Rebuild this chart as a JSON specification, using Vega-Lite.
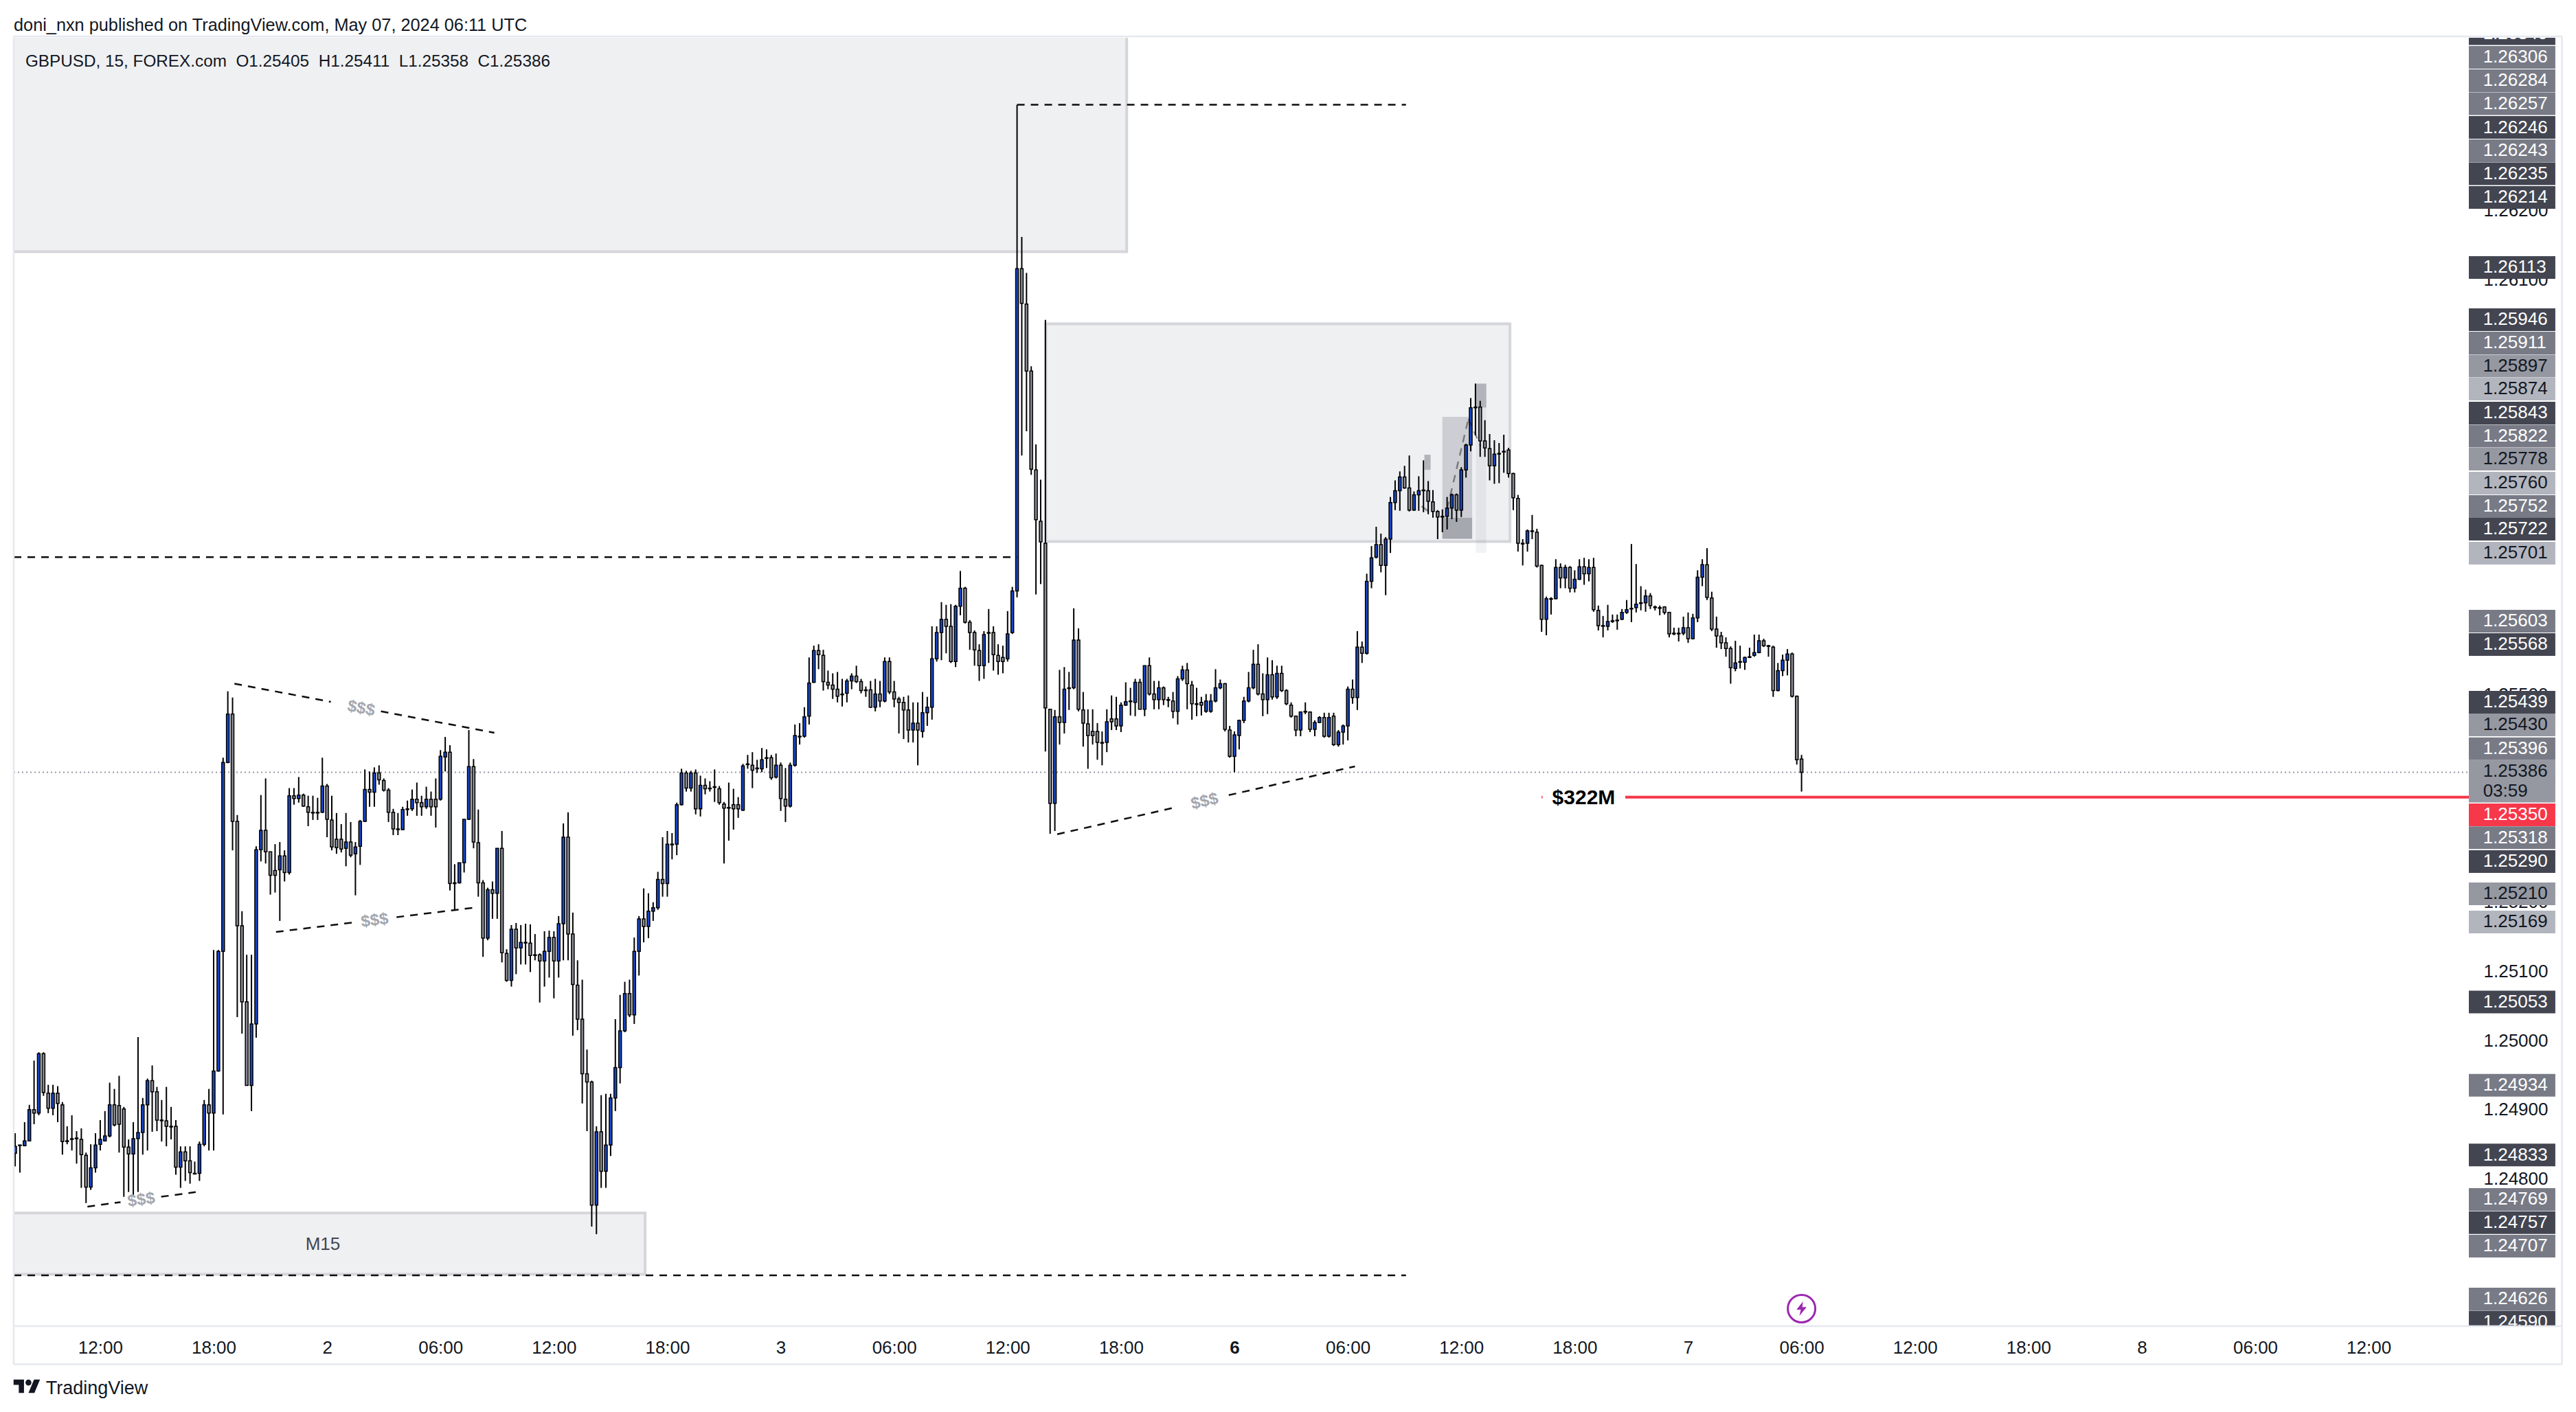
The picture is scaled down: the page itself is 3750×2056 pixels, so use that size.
{
  "$schema": "https://vega.github.io/schema/vega-lite/v6.json",
  "autosize": {"type": "none"},
  "padding": {"left": 20, "top": 55, "right": 156, "bottom": 125},
  "width": 3574,
  "height": 1876,
  "background": "#ffffff",
  "config": {
    "view": {"stroke": null},
    "font": "Liberation Sans"
  },
  "datasets": {
    "bars": [
{"i":-18,"o":1.24835,"h":1.24864,"l":1.24816,"c":1.24845},
{"i":-17,"o":1.24847,"h":1.24847,"l":1.24807,"c":1.24846},
{"i":-16,"o":1.24846,"h":1.2488,"l":1.24845,"c":1.24853},
{"i":-15,"o":1.24853,"h":1.24905,"l":1.24853,"c":1.24898},
{"i":-14,"o":1.24898,"h":1.24969,"l":1.24877,"c":1.24893},
{"i":-13,"o":1.24893,"h":1.24981,"l":1.2489,"c":1.24979},
{"i":-12,"o":1.24979,"h":1.24981,"l":1.24918,"c":1.24923},
{"i":-11,"o":1.24922,"h":1.24934,"l":1.24893,"c":1.249},
{"i":-10,"o":1.249,"h":1.24934,"l":1.2489,"c":1.24922},
{"i":-9,"o":1.24922,"h":1.24932,"l":1.2488,"c":1.24907},
{"i":-8,"o":1.24905,"h":1.24909,"l":1.24833,"c":1.24852},
{"i":-7,"o":1.24853,"h":1.24874,"l":1.24848,"c":1.24852},
{"i":-6,"o":1.24856,"h":1.2489,"l":1.24839,"c":1.24855},
{"i":-5,"o":1.24857,"h":1.24867,"l":1.2482,"c":1.24856},
{"i":-4,"o":1.24855,"h":1.24871,"l":1.24785,"c":1.24833},
{"i":-3,"o":1.24832,"h":1.24836,"l":1.24763,"c":1.24786},
{"i":-2,"o":1.24786,"h":1.24848,"l":1.24782,"c":1.24814},
{"i":-1,"o":1.24814,"h":1.24864,"l":1.24807,"c":1.24847},
{"i":0,"o":1.24848,"h":1.24883,"l":1.24839,"c":1.24855},
{"i":1,"o":1.24853,"h":1.24896,"l":1.24852,"c":1.2486},
{"i":2,"o":1.2486,"h":1.24937,"l":1.24858,"c":1.24905},
{"i":3,"o":1.24905,"h":1.24928,"l":1.24874,"c":1.24876},
{"i":4,"o":1.24904,"h":1.24947,"l":1.24836,"c":1.24877},
{"i":5,"o":1.24899,"h":1.24902,"l":1.24772,"c":1.24844},
{"i":6,"o":1.24844,"h":1.24855,"l":1.24779,"c":1.24834},
{"i":7,"o":1.24834,"h":1.2488,"l":1.24775,"c":1.24856},
{"i":8,"o":1.24856,"h":1.25003,"l":1.24779,"c":1.24865},
{"i":9,"o":1.24865,"h":1.24915,"l":1.24833,"c":1.24905},
{"i":10,"o":1.24905,"h":1.24943,"l":1.24839,"c":1.2494},
{"i":11,"o":1.2494,"h":1.24962,"l":1.24866,"c":1.24924},
{"i":12,"o":1.24924,"h":1.24931,"l":1.24867,"c":1.24883},
{"i":13,"o":1.24883,"h":1.24912,"l":1.24852,"c":1.24882},
{"i":14,"o":1.24882,"h":1.24931,"l":1.24845,"c":1.24874},
{"i":15,"o":1.24874,"h":1.24902,"l":1.24855,"c":1.24873},
{"i":16,"o":1.24874,"h":1.24883,"l":1.24804,"c":1.24815},
{"i":17,"o":1.24815,"h":1.24845,"l":1.24785,"c":1.24837},
{"i":18,"o":1.24837,"h":1.24845,"l":1.24795,"c":1.24824},
{"i":19,"o":1.24824,"h":1.24845,"l":1.24791,"c":1.24807},
{"i":20,"o":1.24806,"h":1.24823,"l":1.24805,"c":1.24805},
{"i":21,"o":1.24806,"h":1.24852,"l":1.24795,"c":1.24848},
{"i":22,"o":1.24848,"h":1.24912,"l":1.24845,"c":1.24905},
{"i":23,"o":1.24905,"h":1.24928,"l":1.24839,"c":1.24893},
{"i":24,"o":1.24893,"h":1.25129,"l":1.24839,"c":1.24954},
{"i":25,"o":1.24954,"h":1.25129,"l":1.24953,"c":1.25127},
{"i":26,"o":1.25127,"h":1.25407,"l":1.24891,"c":1.254},
{"i":27,"o":1.254,"h":1.25503,"l":1.25399,"c":1.2547},
{"i":28,"o":1.2547,"h":1.25494,"l":1.25273,"c":1.25315},
{"i":29,"o":1.25315,"h":1.25324,"l":1.25032,"c":1.25164},
{"i":30,"o":1.25164,"h":1.25185,"l":1.25008,"c":1.25054},
{"i":31,"o":1.25054,"h":1.25122,"l":1.24933,"c":1.24933},
{"i":32,"o":1.24933,"h":1.25122,"l":1.24896,"c":1.25022},
{"i":33,"o":1.25022,"h":1.25279,"l":1.25002,"c":1.25274},
{"i":34,"o":1.25274,"h":1.25353,"l":1.25257,"c":1.25302},
{"i":35,"o":1.25302,"h":1.25377,"l":1.25254,"c":1.25271},
{"i":36,"o":1.25271,"h":1.25271,"l":1.25209,"c":1.25237},
{"i":37,"o":1.25244,"h":1.25282,"l":1.25212,"c":1.25237},
{"i":38,"o":1.25245,"h":1.25285,"l":1.25171,"c":1.25265},
{"i":39,"o":1.25265,"h":1.25273,"l":1.25228,"c":1.25241},
{"i":40,"o":1.25241,"h":1.25363,"l":1.25238,"c":1.25352},
{"i":41,"o":1.25352,"h":1.25363,"l":1.25339,"c":1.25348},
{"i":42,"o":1.25348,"h":1.25379,"l":1.25342,"c":1.25353},
{"i":43,"o":1.25353,"h":1.25355,"l":1.25336,"c":1.25337},
{"i":44,"o":1.25336,"h":1.25352,"l":1.25308,"c":1.25328},
{"i":45,"o":1.25328,"h":1.25352,"l":1.25317,"c":1.25327},
{"i":46,"o":1.25328,"h":1.25349,"l":1.25317,"c":1.25327},
{"i":47,"o":1.25328,"h":1.25407,"l":1.25327,"c":1.25366},
{"i":48,"o":1.25366,"h":1.25369,"l":1.25292,"c":1.25318},
{"i":49,"o":1.25317,"h":1.25352,"l":1.25273,"c":1.25278},
{"i":50,"o":1.25289,"h":1.25327,"l":1.25268,"c":1.25277},
{"i":51,"o":1.25289,"h":1.25311,"l":1.2527,"c":1.25275},
{"i":52,"o":1.25276,"h":1.25327,"l":1.2525,"c":1.25285},
{"i":53,"o":1.25285,"h":1.25314,"l":1.25263,"c":1.25266},
{"i":54,"o":1.25268,"h":1.25285,"l":1.25208,"c":1.25278},
{"i":55,"o":1.25279,"h":1.25317,"l":1.25252,"c":1.25315},
{"i":56,"o":1.25315,"h":1.2539,"l":1.25314,"c":1.25361},
{"i":57,"o":1.25361,"h":1.25387,"l":1.25336,"c":1.25357},
{"i":58,"o":1.25357,"h":1.25393,"l":1.25336,"c":1.25385},
{"i":59,"o":1.25385,"h":1.25396,"l":1.25368,"c":1.25375},
{"i":60,"o":1.25374,"h":1.25377,"l":1.25358,"c":1.2536},
{"i":61,"o":1.2536,"h":1.25363,"l":1.25314,"c":1.25328},
{"i":62,"o":1.25328,"h":1.25333,"l":1.25295,"c":1.25304},
{"i":63,"o":1.25304,"h":1.25327,"l":1.25295,"c":1.25303},
{"i":64,"o":1.25303,"h":1.25336,"l":1.25302,"c":1.25332},
{"i":65,"o":1.25333,"h":1.25345,"l":1.25323,"c":1.25332},
{"i":66,"o":1.25333,"h":1.25361,"l":1.2533,"c":1.25347},
{"i":67,"o":1.25347,"h":1.25371,"l":1.25323,"c":1.25342},
{"i":68,"o":1.25342,"h":1.25352,"l":1.25323,"c":1.25336},
{"i":69,"o":1.25336,"h":1.25365,"l":1.25333,"c":1.25347},
{"i":70,"o":1.25347,"h":1.25358,"l":1.25323,"c":1.25336},
{"i":71,"o":1.25347,"h":1.25377,"l":1.25306,"c":1.25336},
{"i":72,"o":1.25347,"h":1.25418,"l":1.25345,"c":1.25409},
{"i":73,"o":1.25408,"h":1.25437,"l":1.25387,"c":1.25415},
{"i":74,"o":1.25415,"h":1.25425,"l":1.25215,"c":1.25225},
{"i":75,"o":1.25226,"h":1.25253,"l":1.25187,"c":1.25225},
{"i":76,"o":1.25226,"h":1.25255,"l":1.25225,"c":1.25255},
{"i":77,"o":1.25255,"h":1.25318,"l":1.25241,"c":1.25318},
{"i":78,"o":1.25318,"h":1.25447,"l":1.25317,"c":1.25394},
{"i":79,"o":1.25394,"h":1.25405,"l":1.25276,"c":1.25285},
{"i":80,"o":1.25284,"h":1.25332,"l":1.25206,"c":1.25226},
{"i":81,"o":1.25226,"h":1.2523,"l":1.25119,"c":1.25146},
{"i":82,"o":1.25146,"h":1.25219,"l":1.25143,"c":1.25216},
{"i":83,"o":1.25216,"h":1.25228,"l":1.25174,"c":1.25211},
{"i":84,"o":1.25211,"h":1.25276,"l":1.25174,"c":1.25276},
{"i":85,"o":1.25276,"h":1.25301,"l":1.25111,"c":1.25125},
{"i":86,"o":1.25124,"h":1.2513,"l":1.25083,"c":1.25085},
{"i":87,"o":1.25085,"h":1.25165,"l":1.25076,"c":1.25159},
{"i":88,"o":1.25159,"h":1.25168,"l":1.25094,"c":1.25132},
{"i":89,"o":1.25132,"h":1.25165,"l":1.25108,"c":1.2514},
{"i":90,"o":1.2514,"h":1.25167,"l":1.25108,"c":1.25139},
{"i":91,"o":1.25139,"h":1.25166,"l":1.25097,"c":1.25121},
{"i":92,"o":1.25122,"h":1.25152,"l":1.25114,"c":1.25121},
{"i":93,"o":1.25122,"h":1.25124,"l":1.25053,"c":1.25113},
{"i":94,"o":1.25113,"h":1.25156,"l":1.25076,"c":1.25127},
{"i":95,"o":1.25127,"h":1.25157,"l":1.25089,"c":1.25147},
{"i":96,"o":1.25147,"h":1.25156,"l":1.25059,"c":1.25113},
{"i":97,"o":1.25113,"h":1.25178,"l":1.25089,"c":1.25167},
{"i":98,"o":1.25167,"h":1.25312,"l":1.25114,"c":1.25292},
{"i":99,"o":1.25292,"h":1.25328,"l":1.25114,"c":1.25152},
{"i":100,"o":1.25152,"h":1.25183,"l":1.25005,"c":1.25079},
{"i":101,"o":1.25078,"h":1.25114,"l":1.25013,"c":1.25029},
{"i":102,"o":1.25029,"h":1.25086,"l":1.24907,"c":1.2495},
{"i":103,"o":1.2495,"h":1.24985,"l":1.24867,"c":1.24938},
{"i":104,"o":1.24938,"h":1.2494,"l":1.24729,"c":1.2476},
{"i":105,"o":1.2476,"h":1.24874,"l":1.24718,"c":1.24866},
{"i":106,"o":1.24866,"h":1.24919,"l":1.24785,"c":1.24809},
{"i":107,"o":1.24809,"h":1.24921,"l":1.24785,"c":1.24847},
{"i":108,"o":1.24847,"h":1.24921,"l":1.24831,"c":1.24915},
{"i":109,"o":1.24915,"h":1.25029,"l":1.24896,"c":1.24959},
{"i":110,"o":1.24959,"h":1.25064,"l":1.24936,"c":1.25012},
{"i":111,"o":1.25012,"h":1.25083,"l":1.2501,"c":1.25066},
{"i":112,"o":1.25066,"h":1.25086,"l":1.25032,"c":1.25035},
{"i":113,"o":1.25035,"h":1.25147,"l":1.25022,"c":1.25127},
{"i":114,"o":1.25127,"h":1.25178,"l":1.25092,"c":1.25174},
{"i":115,"o":1.25174,"h":1.25218,"l":1.2514,"c":1.25163},
{"i":116,"o":1.25163,"h":1.25211,"l":1.25146,"c":1.25185},
{"i":117,"o":1.25185,"h":1.25198,"l":1.25171,"c":1.2519},
{"i":118,"o":1.2519,"h":1.25242,"l":1.25187,"c":1.25231},
{"i":119,"o":1.25231,"h":1.25292,"l":1.25206,"c":1.25225},
{"i":120,"o":1.25225,"h":1.25301,"l":1.25206,"c":1.25282},
{"i":121,"o":1.25282,"h":1.25298,"l":1.2526,"c":1.25281},
{"i":122,"o":1.25282,"h":1.25342,"l":1.25266,"c":1.25339},
{"i":123,"o":1.25339,"h":1.25391,"l":1.25338,"c":1.25385},
{"i":124,"o":1.25385,"h":1.25388,"l":1.25358,"c":1.25363},
{"i":125,"o":1.25363,"h":1.25388,"l":1.25358,"c":1.25385},
{"i":126,"o":1.25385,"h":1.2539,"l":1.25325,"c":1.25333},
{"i":127,"o":1.25333,"h":1.25381,"l":1.25322,"c":1.25367},
{"i":128,"o":1.25367,"h":1.25377,"l":1.25354,"c":1.25362},
{"i":129,"o":1.25363,"h":1.25373,"l":1.25358,"c":1.25362},
{"i":130,"o":1.25365,"h":1.2539,"l":1.25343,"c":1.25364},
{"i":131,"o":1.25362,"h":1.25366,"l":1.25339,"c":1.25342},
{"i":132,"o":1.2534,"h":1.25343,"l":1.25254,"c":1.25334},
{"i":133,"o":1.25335,"h":1.25371,"l":1.25287,"c":1.25334},
{"i":134,"o":1.25339,"h":1.25362,"l":1.25303,"c":1.25333},
{"i":135,"o":1.25339,"h":1.2535,"l":1.2532,"c":1.25333},
{"i":136,"o":1.25331,"h":1.25398,"l":1.2533,"c":1.25395},
{"i":137,"o":1.25398,"h":1.25411,"l":1.25391,"c":1.25397},
{"i":138,"o":1.25396,"h":1.25415,"l":1.25363,"c":1.25389},
{"i":139,"o":1.25392,"h":1.25404,"l":1.25385,"c":1.25391},
{"i":140,"o":1.25391,"h":1.25421,"l":1.25386,"c":1.25404},
{"i":141,"o":1.25407,"h":1.25419,"l":1.25392,"c":1.25406},
{"i":142,"o":1.25407,"h":1.25411,"l":1.25375,"c":1.25378},
{"i":143,"o":1.25379,"h":1.25413,"l":1.25377,"c":1.25396},
{"i":144,"o":1.25396,"h":1.254,"l":1.2533,"c":1.25348},
{"i":145,"o":1.25347,"h":1.25392,"l":1.25314,"c":1.25337},
{"i":146,"o":1.25337,"h":1.254,"l":1.25335,"c":1.25396},
{"i":147,"o":1.25396,"h":1.25455,"l":1.25394,"c":1.25439},
{"i":148,"o":1.25438,"h":1.25457,"l":1.25426,"c":1.25437},
{"i":149,"o":1.25438,"h":1.2548,"l":1.25436,"c":1.25466},
{"i":150,"o":1.25467,"h":1.25552,"l":1.25455,"c":1.25515},
{"i":151,"o":1.25516,"h":1.25569,"l":1.25515,"c":1.25562},
{"i":152,"o":1.25562,"h":1.25571,"l":1.25535,"c":1.25556},
{"i":153,"o":1.25555,"h":1.25563,"l":1.25504,"c":1.25517},
{"i":154,"o":1.25516,"h":1.25533,"l":1.25506,"c":1.25512},
{"i":155,"o":1.25512,"h":1.25529,"l":1.25492,"c":1.25506},
{"i":156,"o":1.25506,"h":1.25531,"l":1.25487,"c":1.25496},
{"i":157,"o":1.25499,"h":1.25521,"l":1.25481,"c":1.25498},
{"i":158,"o":1.255,"h":1.25521,"l":1.25487,"c":1.25518},
{"i":159,"o":1.25518,"h":1.25529,"l":1.25506,"c":1.25525},
{"i":160,"o":1.25525,"h":1.2554,"l":1.25515,"c":1.25517},
{"i":161,"o":1.25517,"h":1.25521,"l":1.255,"c":1.25504},
{"i":162,"o":1.25505,"h":1.2551,"l":1.25495,"c":1.25504},
{"i":163,"o":1.25505,"h":1.25518,"l":1.25479,"c":1.2548},
{"i":164,"o":1.2548,"h":1.25521,"l":1.25474,"c":1.25499},
{"i":165,"o":1.25499,"h":1.25518,"l":1.2548,"c":1.25489},
{"i":166,"o":1.25489,"h":1.25552,"l":1.25487,"c":1.25546},
{"i":167,"o":1.25546,"h":1.25552,"l":1.25499,"c":1.25502},
{"i":168,"o":1.25502,"h":1.25518,"l":1.2548,"c":1.25492},
{"i":169,"o":1.25492,"h":1.25495,"l":1.25442,"c":1.25487},
{"i":170,"o":1.25487,"h":1.25495,"l":1.25434,"c":1.25476},
{"i":171,"o":1.25476,"h":1.25497,"l":1.25429,"c":1.25447},
{"i":172,"o":1.25447,"h":1.25487,"l":1.25429,"c":1.25457},
{"i":173,"o":1.25457,"h":1.25487,"l":1.25396,"c":1.25447},
{"i":174,"o":1.25445,"h":1.25502,"l":1.25436,"c":1.25472},
{"i":175,"o":1.25472,"h":1.25495,"l":1.25453,"c":1.2548},
{"i":176,"o":1.2548,"h":1.25597,"l":1.25462,"c":1.2555},
{"i":177,"o":1.2555,"h":1.25597,"l":1.25546,"c":1.25588},
{"i":178,"o":1.25588,"h":1.25632,"l":1.25548,"c":1.25607},
{"i":179,"o":1.25607,"h":1.25628,"l":1.25558,"c":1.25597},
{"i":180,"o":1.25597,"h":1.25629,"l":1.25544,"c":1.25546},
{"i":181,"o":1.25546,"h":1.25628,"l":1.25538,"c":1.25626},
{"i":182,"o":1.25626,"h":1.25677,"l":1.25613,"c":1.25652},
{"i":183,"o":1.25652,"h":1.25654,"l":1.25601,"c":1.25603},
{"i":184,"o":1.25603,"h":1.25606,"l":1.25563,"c":1.25588},
{"i":185,"o":1.25588,"h":1.25591,"l":1.2554,"c":1.25563},
{"i":186,"o":1.25562,"h":1.25571,"l":1.25518,"c":1.2554},
{"i":187,"o":1.2554,"h":1.2559,"l":1.25521,"c":1.25585},
{"i":188,"o":1.25588,"h":1.25622,"l":1.25544,"c":1.25587},
{"i":189,"o":1.25588,"h":1.25597,"l":1.25533,"c":1.25556},
{"i":190,"o":1.25555,"h":1.25571,"l":1.25527,"c":1.25546},
{"i":191,"o":1.25552,"h":1.25569,"l":1.25529,"c":1.25546},
{"i":192,"o":1.2555,"h":1.25619,"l":1.25546,"c":1.25586},
{"i":193,"o":1.25588,"h":1.25654,"l":1.25586,"c":1.25648},
{"i":194,"o":1.25648,"h":1.26351,"l":1.25639,"c":1.26114},
{"i":195,"o":1.26114,"h":1.2616,"l":1.25844,"c":1.26064},
{"i":196,"o":1.26063,"h":1.26108,"l":1.25879,"c":1.25966},
{"i":197,"o":1.25966,"h":1.25973,"l":1.25816,"c":1.25824},
{"i":198,"o":1.25823,"h":1.2586,"l":1.25643,"c":1.25751},
{"i":199,"o":1.25749,"h":1.25809,"l":1.25658,"c":1.25719},
{"i":200,"o":1.25717,"h":1.2604,"l":1.25416,"c":1.25479},
{"i":201,"o":1.25477,"h":1.25477,"l":1.25297,"c":1.25341},
{"i":202,"o":1.25341,"h":1.25476,"l":1.25301,"c":1.25466},
{"i":203,"o":1.25466,"h":1.25534,"l":1.25426,"c":1.25458},
{"i":204,"o":1.25458,"h":1.25538,"l":1.25442,"c":1.25506},
{"i":205,"o":1.25508,"h":1.25531,"l":1.25476,"c":1.25507},
{"i":206,"o":1.25508,"h":1.25623,"l":1.25506,"c":1.25577},
{"i":207,"o":1.25577,"h":1.25594,"l":1.25474,"c":1.25477},
{"i":208,"o":1.25476,"h":1.25502,"l":1.25423,"c":1.25457},
{"i":209,"o":1.25456,"h":1.25477,"l":1.25391,"c":1.25439},
{"i":210,"o":1.25445,"h":1.25477,"l":1.25426,"c":1.25439},
{"i":211,"o":1.25445,"h":1.25457,"l":1.25404,"c":1.25429},
{"i":212,"o":1.25429,"h":1.25445,"l":1.25396,"c":1.25428},
{"i":213,"o":1.25429,"h":1.25477,"l":1.25415,"c":1.25459},
{"i":214,"o":1.25463,"h":1.25497,"l":1.25447,"c":1.25459},
{"i":215,"o":1.25463,"h":1.25495,"l":1.25447,"c":1.25453},
{"i":216,"o":1.25453,"h":1.25487,"l":1.25444,"c":1.25483},
{"i":217,"o":1.25483,"h":1.25516,"l":1.25482,"c":1.25488},
{"i":218,"o":1.25489,"h":1.25508,"l":1.25468,"c":1.25488},
{"i":219,"o":1.25487,"h":1.25521,"l":1.25467,"c":1.25516},
{"i":220,"o":1.25516,"h":1.25521,"l":1.25477,"c":1.25477},
{"i":221,"o":1.25477,"h":1.2554,"l":1.25467,"c":1.2554},
{"i":222,"o":1.2554,"h":1.25552,"l":1.25497,"c":1.25499},
{"i":223,"o":1.25499,"h":1.25518,"l":1.25477,"c":1.25491},
{"i":224,"o":1.25491,"h":1.25518,"l":1.25477,"c":1.25508},
{"i":225,"o":1.25508,"h":1.2551,"l":1.25483,"c":1.25491},
{"i":226,"o":1.25491,"h":1.25495,"l":1.2548,"c":1.2549},
{"i":227,"o":1.25489,"h":1.25502,"l":1.25464,"c":1.25474},
{"i":228,"o":1.25474,"h":1.25525,"l":1.25455,"c":1.25521},
{"i":229,"o":1.25521,"h":1.2554,"l":1.25518,"c":1.25534},
{"i":230,"o":1.25534,"h":1.25544,"l":1.25477,"c":1.25514},
{"i":231,"o":1.25512,"h":1.25518,"l":1.25462,"c":1.25485},
{"i":232,"o":1.25485,"h":1.25508,"l":1.25467,"c":1.25484},
{"i":233,"o":1.25487,"h":1.25495,"l":1.25468,"c":1.25483},
{"i":234,"o":1.25474,"h":1.25499,"l":1.25472,"c":1.25489},
{"i":235,"o":1.25474,"h":1.25499,"l":1.25472,"c":1.25489},
{"i":236,"o":1.25489,"h":1.25535,"l":1.25487,"c":1.25508},
{"i":237,"o":1.25508,"h":1.2552,"l":1.25506,"c":1.25514},
{"i":238,"o":1.25514,"h":1.25515,"l":1.25445,"c":1.25448},
{"i":239,"o":1.25447,"h":1.25453,"l":1.25407,"c":1.25409},
{"i":240,"o":1.25409,"h":1.25445,"l":1.25386,"c":1.2544},
{"i":241,"o":1.25439,"h":1.25462,"l":1.25419,"c":1.25461},
{"i":242,"o":1.25461,"h":1.25495,"l":1.25457,"c":1.25489},
{"i":243,"o":1.25489,"h":1.25531,"l":1.25487,"c":1.25508},
{"i":244,"o":1.25508,"h":1.25563,"l":1.25506,"c":1.25542},
{"i":245,"o":1.25542,"h":1.25571,"l":1.25497,"c":1.25499},
{"i":246,"o":1.25499,"h":1.25529,"l":1.25467,"c":1.25491},
{"i":247,"o":1.25491,"h":1.25552,"l":1.2547,"c":1.25527},
{"i":248,"o":1.25527,"h":1.25548,"l":1.25491,"c":1.25495},
{"i":249,"o":1.25495,"h":1.2554,"l":1.25492,"c":1.25529},
{"i":250,"o":1.25529,"h":1.2554,"l":1.25502,"c":1.25504},
{"i":251,"o":1.25504,"h":1.25506,"l":1.25483,"c":1.25485},
{"i":252,"o":1.25483,"h":1.25487,"l":1.25465,"c":1.25467},
{"i":253,"o":1.25467,"h":1.25468,"l":1.25438,"c":1.25447},
{"i":254,"o":1.25447,"h":1.25474,"l":1.25438,"c":1.25473},
{"i":255,"o":1.25474,"h":1.25487,"l":1.2547,"c":1.25473},
{"i":256,"o":1.25473,"h":1.25474,"l":1.25444,"c":1.25448},
{"i":257,"o":1.25448,"h":1.25461,"l":1.25438,"c":1.25458},
{"i":258,"o":1.25458,"h":1.25467,"l":1.25457,"c":1.25465},
{"i":259,"o":1.25465,"h":1.25472,"l":1.25436,"c":1.25438},
{"i":260,"o":1.25438,"h":1.25472,"l":1.25436,"c":1.25465},
{"i":261,"o":1.25467,"h":1.25472,"l":1.25424,"c":1.25426},
{"i":262,"o":1.25426,"h":1.25447,"l":1.25423,"c":1.25444},
{"i":263,"o":1.25444,"h":1.25455,"l":1.25426,"c":1.25453},
{"i":264,"o":1.25453,"h":1.2551,"l":1.25432,"c":1.25506},
{"i":265,"o":1.25506,"h":1.2552,"l":1.25485,"c":1.25494},
{"i":266,"o":1.25494,"h":1.2559,"l":1.25476,"c":1.25567},
{"i":267,"o":1.25567,"h":1.25575,"l":1.25544,"c":1.25558},
{"i":268,"o":1.25558,"h":1.25673,"l":1.25556,"c":1.25662},
{"i":269,"o":1.25662,"h":1.25713,"l":1.25652,"c":1.25696},
{"i":270,"o":1.25697,"h":1.25741,"l":1.25695,"c":1.25715},
{"i":271,"o":1.25715,"h":1.25731,"l":1.25675,"c":1.25685},
{"i":272,"o":1.25685,"h":1.25726,"l":1.25642,"c":1.25723},
{"i":273,"o":1.25723,"h":1.25784,"l":1.25703,"c":1.25776},
{"i":274,"o":1.25776,"h":1.25808,"l":1.25765,"c":1.25793},
{"i":275,"o":1.25793,"h":1.25821,"l":1.25764,"c":1.25813},
{"i":276,"o":1.25813,"h":1.25829,"l":1.25796,"c":1.25797},
{"i":277,"o":1.25797,"h":1.25844,"l":1.25763,"c":1.25765},
{"i":278,"o":1.25765,"h":1.25792,"l":1.25764,"c":1.25787},
{"i":279,"o":1.25787,"h":1.25814,"l":1.25764,"c":1.25793},
{"i":280,"o":1.25794,"h":1.25837,"l":1.25762,"c":1.25793},
{"i":281,"o":1.25793,"h":1.25807,"l":1.25759,"c":1.25778},
{"i":282,"o":1.25777,"h":1.25794,"l":1.25754,"c":1.25763},
{"i":283,"o":1.25763,"h":1.25765,"l":1.25723,"c":1.25755},
{"i":284,"o":1.25756,"h":1.25766,"l":1.25733,"c":1.25755},
{"i":285,"o":1.25756,"h":1.25784,"l":1.25737,"c":1.25768},
{"i":286,"o":1.25768,"h":1.25789,"l":1.25752,"c":1.25787},
{"i":287,"o":1.25787,"h":1.25789,"l":1.25748,"c":1.25765},
{"i":288,"o":1.25765,"h":1.25827,"l":1.25755,"c":1.25823},
{"i":289,"o":1.25823,"h":1.25861,"l":1.25812,"c":1.25859},
{"i":290,"o":1.25859,"h":1.25927,"l":1.2585,"c":1.25913},
{"i":291,"o":1.25914,"h":1.25948,"l":1.25873,"c":1.25913},
{"i":292,"o":1.25914,"h":1.25923,"l":1.25842,"c":1.25865},
{"i":293,"o":1.25865,"h":1.25895,"l":1.25842,"c":1.25855},
{"i":294,"o":1.25854,"h":1.25875,"l":1.25808,"c":1.25829},
{"i":295,"o":1.25829,"h":1.25866,"l":1.25803,"c":1.25846},
{"i":296,"o":1.25847,"h":1.25862,"l":1.25804,"c":1.25846},
{"i":297,"o":1.2585,"h":1.25874,"l":1.25819,"c":1.25849},
{"i":298,"o":1.25852,"h":1.25855,"l":1.25812,"c":1.25818},
{"i":299,"o":1.25818,"h":1.25819,"l":1.25765,"c":1.25783},
{"i":300,"o":1.25782,"h":1.25787,"l":1.25705,"c":1.25717},
{"i":301,"o":1.25717,"h":1.25723,"l":1.25685,"c":1.25716},
{"i":302,"o":1.25717,"h":1.25737,"l":1.25705,"c":1.25735},
{"i":303,"o":1.25735,"h":1.25758,"l":1.25723,"c":1.25734},
{"i":304,"o":1.25733,"h":1.25738,"l":1.25682,"c":1.25684},
{"i":305,"o":1.25685,"h":1.25686,"l":1.25589,"c":1.25607},
{"i":306,"o":1.25607,"h":1.2564,"l":1.25584,"c":1.25637},
{"i":307,"o":1.25637,"h":1.25639,"l":1.25614,"c":1.25636},
{"i":308,"o":1.25637,"h":1.25694,"l":1.25636,"c":1.25682},
{"i":309,"o":1.25682,"h":1.25688,"l":1.25652,"c":1.25667},
{"i":310,"o":1.25667,"h":1.25686,"l":1.25652,"c":1.25682},
{"i":311,"o":1.25682,"h":1.25684,"l":1.25646,"c":1.25652},
{"i":312,"o":1.25652,"h":1.25678,"l":1.25646,"c":1.25665},
{"i":313,"o":1.25665,"h":1.25694,"l":1.25664,"c":1.25683},
{"i":314,"o":1.25683,"h":1.25696,"l":1.25657,"c":1.25673},
{"i":315,"o":1.25673,"h":1.25694,"l":1.25662,"c":1.25682},
{"i":316,"o":1.25682,"h":1.25696,"l":1.25618,"c":1.25621},
{"i":317,"o":1.2562,"h":1.25627,"l":1.25591,"c":1.25598},
{"i":318,"o":1.25598,"h":1.25612,"l":1.25581,"c":1.25597},
{"i":319,"o":1.25597,"h":1.25628,"l":1.25591,"c":1.25604},
{"i":320,"o":1.25605,"h":1.25614,"l":1.25602,"c":1.25604},
{"i":321,"o":1.25606,"h":1.25614,"l":1.25592,"c":1.25605},
{"i":322,"o":1.25607,"h":1.25622,"l":1.25606,"c":1.25617},
{"i":323,"o":1.25617,"h":1.25635,"l":1.25615,"c":1.25621},
{"i":324,"o":1.25623,"h":1.25716,"l":1.25603,"c":1.25622},
{"i":325,"o":1.25624,"h":1.25687,"l":1.25617,"c":1.25629},
{"i":326,"o":1.25631,"h":1.25655,"l":1.2562,"c":1.2563},
{"i":327,"o":1.25631,"h":1.2565,"l":1.25618,"c":1.25641},
{"i":328,"o":1.25641,"h":1.25645,"l":1.25622,"c":1.25627},
{"i":329,"o":1.25625,"h":1.25627,"l":1.2562,"c":1.25624},
{"i":330,"o":1.25624,"h":1.25627,"l":1.25613,"c":1.25623},
{"i":331,"o":1.25625,"h":1.25626,"l":1.25614,"c":1.25617},
{"i":332,"o":1.25617,"h":1.25618,"l":1.25581,"c":1.25586},
{"i":333,"o":1.25587,"h":1.25595,"l":1.25584,"c":1.25586},
{"i":334,"o":1.25587,"h":1.25595,"l":1.25575,"c":1.25586},
{"i":335,"o":1.25587,"h":1.25611,"l":1.25584,"c":1.25595},
{"i":336,"o":1.25595,"h":1.25617,"l":1.25573,"c":1.25579},
{"i":337,"o":1.25579,"h":1.25615,"l":1.25578,"c":1.25609},
{"i":338,"o":1.25609,"h":1.25678,"l":1.25603,"c":1.25668},
{"i":339,"o":1.25668,"h":1.25694,"l":1.25655,"c":1.25686},
{"i":340,"o":1.25686,"h":1.2571,"l":1.25635,"c":1.25639},
{"i":341,"o":1.25638,"h":1.25647,"l":1.2559,"c":1.25593},
{"i":342,"o":1.25593,"h":1.25611,"l":1.25566,"c":1.25583},
{"i":343,"o":1.25583,"h":1.25589,"l":1.25564,"c":1.25573},
{"i":344,"o":1.25573,"h":1.25581,"l":1.25553,"c":1.25565},
{"i":345,"o":1.25565,"h":1.25568,"l":1.25514,"c":1.25537},
{"i":346,"o":1.25536,"h":1.25576,"l":1.25532,"c":1.25544},
{"i":347,"o":1.25546,"h":1.25569,"l":1.25536,"c":1.25545},
{"i":348,"o":1.25545,"h":1.25553,"l":1.25534,"c":1.25552},
{"i":349,"o":1.25553,"h":1.25566,"l":1.25551,"c":1.25552},
{"i":350,"o":1.25555,"h":1.25585,"l":1.25553,"c":1.25559},
{"i":351,"o":1.25559,"h":1.25585,"l":1.25558,"c":1.25576},
{"i":352,"o":1.25576,"h":1.25579,"l":1.25567,"c":1.25569},
{"i":353,"o":1.25569,"h":1.2557,"l":1.25553,"c":1.25568},
{"i":354,"o":1.25567,"h":1.25569,"l":1.25495,"c":1.25504},
{"i":355,"o":1.25504,"h":1.25544,"l":1.25503,"c":1.25533},
{"i":356,"o":1.25533,"h":1.25556,"l":1.25525,"c":1.25548},
{"i":357,"o":1.25548,"h":1.25564,"l":1.25526,"c":1.25557},
{"i":358,"o":1.25557,"h":1.25559,"l":1.25494,"c":1.25496},
{"i":359,"o":1.25496,"h":1.25497,"l":1.25397,"c":1.25404},
{"i":360,"o":1.25405,"h":1.25411,"l":1.25358,"c":1.25386}
    ],
    "badges": [
{"label":"1.26340","pos":1.264539,"tone":"dark"},
{"label":"1.26306","pos":1.264198,"tone":"slate"},
{"label":"1.26284","pos":1.26386,"tone":"slate"},
{"label":"1.26257","pos":1.263527,"tone":"slate"},
{"label":"1.26246","pos":1.263184,"tone":"dark"},
{"label":"1.26243","pos":1.262847,"tone":"slate"},
{"label":"1.26235","pos":1.262514,"tone":"dark"},
{"label":"1.26214","pos":1.262172,"tone":"dark"},
{"label":"1.26113","pos":1.261159,"tone":"dark"},
{"label":"1.25946","pos":1.260404,"tone":"dark"},
{"label":"1.25911","pos":1.260067,"tone":"slate"},
{"label":"1.25897","pos":1.259734,"tone":"grey"},
{"label":"1.25874","pos":1.259401,"tone":"light"},
{"label":"1.25843","pos":1.259054,"tone":"dark"},
{"label":"1.25822","pos":1.258721,"tone":"slate"},
{"label":"1.25778","pos":1.258388,"tone":"grey"},
{"label":"1.25760","pos":1.258041,"tone":"light"},
{"label":"1.25752","pos":1.257703,"tone":"slate"},
{"label":"1.25722","pos":1.257375,"tone":"dark"},
{"label":"1.25701","pos":1.257028,"tone":"light"},
{"label":"1.25603","pos":1.256045,"tone":"slate"},
{"label":"1.25568","pos":1.255707,"tone":"dark"},
{"label":"1.25439","pos":1.254873,"tone":"dark"},
{"label":"1.25430","pos":1.254545,"tone":"grey"},
{"label":"1.25396","pos":1.254198,"tone":"slate"},
{"label":"1.25386","pos":1.25387,"tone":"grey"},
{"label":"03:59","pos":1.253587,"tone":"grey"},
{"label":"1.25350","pos":1.253244,"tone":"red"},
{"label":"1.25318","pos":1.252912,"tone":"slate"},
{"label":"1.25290","pos":1.252569,"tone":"dark"},
{"label":"1.25210","pos":1.252102,"tone":"grey"},
{"label":"1.25169","pos":1.251695,"tone":"light"},
{"label":"1.25053","pos":1.250537,"tone":"dark"},
{"label":"1.24934","pos":1.249332,"tone":"slate"},
{"label":"1.24833","pos":1.248324,"tone":"dark"},
{"label":"1.24769","pos":1.247683,"tone":"slate"},
{"label":"1.24757","pos":1.247346,"tone":"dark"},
{"label":"1.24707","pos":1.247008,"tone":"slate"},
{"label":"1.24626","pos":1.246243,"tone":"slate"},
{"label":"1.24590","pos":1.24591,"tone":"dark"}
    ],
    "lines": [
{"a":194,"b":276.3,"p":1.263512,"q":1.263512,"kind":"drawn"},
{"a":-18.3,"b":194,"p":1.256969,"q":1.256969,"kind":"drawn"},
{"a":-18.3,"b":276.3,"p":1.246584,"q":1.246584,"kind":"drawn"},
{"a":28.4,"b":48.8,"p":1.25514,"q":1.254877,"kind":"drawn"},
{"a":59.4,"b":83.4,"p":1.25474,"q":1.254431,"kind":"drawn"},
{"a":37.2,"b":53.8,"p":1.25155,"q":1.251689,"kind":"drawn"},
{"a":62.7,"b":79.4,"p":1.251764,"q":1.251904,"kind":"drawn"},
{"a":-2.7,"b":4.3,"p":1.247579,"q":1.247643,"kind":"drawn"},
{"a":12.9,"b":20.2,"p":1.247721,"q":1.247788,"kind":"drawn"},
{"a":202.5,"b":227.9,"p":1.252963,"q":1.253358,"kind":"drawn"},
{"a":238.8,"b":265.5,"p":1.253528,"q":1.253944,"kind":"drawn"},
{"a":279.6,"b":280.9,"p":1.257706,"q":1.25764,"kind":"faded"},
{"a":285,"b":289.5,"p":1.257665,"q":1.258967,"kind":"faded"},
{"a":289.5,"b":292.1,"p":1.258967,"q":1.258577,"kind":"faded"}
    ]
  },
  "layer": [
    {
      "data": {"values": [
        {"a": -19, "b": 217.2, "top": 1.2647, "bottom": 1.261387},
        {"a": 200.1, "b": 298.3, "top": 1.260345, "bottom": 1.257197},
        {"a": -19, "b": 115.3, "top": 1.247485, "bottom": 1.2466}
      ]},
      "mark": {"type": "rect", "fill": "#eff0f2", "stroke": "#d6d6da", "strokeWidth": 4, "clip": true},
      "encoding": {
        "x": {
          "field": "a",
          "type": "quantitative",
          "title": null,
          "scale": {"domain": [-18.3, 501.2], "nice": false, "zero": false, "padding": 0},
          "axis": {
            "values": [0, 24, 48, 72, 96, 120, 144, 168, 192, 216, 240, 264, 288, 312, 336, 360, 384, 408, 432, 456, 480],
            "labelExpr": "['12:00','18:00','2','06:00','12:00','18:00','3','06:00','12:00','18:00','6','06:00','12:00','18:00','7','06:00','12:00','18:00','8','06:00','12:00'][datum.value/24]",
            "labelFontWeight": {"expr": "datum.value==240 ? 'bold' : 'normal'"},
            "labelFont": "Liberation Sans",
            "labelFontSize": 26,
            "labelColor": "#131722",
            "labelBaseline": "middle",
            "labelPadding": 31,
            "labelFlush": false,
            "labelOverlap": false,
            "grid": false,
            "domain": false,
            "ticks": false
          }
        },
        "x2": {"field": "b"},
        "y": {
          "field": "top",
          "type": "quantitative",
          "title": null,
          "scale": {"domain": [1.24585, 1.26448], "nice": false, "zero": false},
          "axis": {
            "orient": "right",
            "values": [1.248, 1.249, 1.25, 1.251, 1.252, 1.255, 1.261, 1.262],
            "format": ".5f",
            "labelFont": "Liberation Sans",
            "labelFontSize": 26,
            "labelColor": "#131722",
            "labelPadding": 21,
            "labelOffset": 2,
            "labelAlign": "left",
            "labelOverlap": false,
            "grid": false,
            "domain": false,
            "ticks": false
          }
        },
        "y2": {"field": "bottom"}
      }
    },
    {
      "data": {"values": [
        {"a": 284, "b": 290.3, "top": 1.258998, "bottom": 1.257235, "kind": "box"},
        {"a": 284, "b": 290.3, "top": 1.257539, "bottom": 1.257235, "kind": "cap"},
        {"a": 291.1, "b": 293.3, "top": 1.259479, "bottom": 1.257032, "kind": "ghost"},
        {"a": 291.1, "b": 293.3, "top": 1.259479, "bottom": 1.259134, "kind": "cap"},
        {"a": 280.2, "b": 281.5, "top": 1.258451, "bottom": 1.257615, "kind": "ghost"},
        {"a": 280.2, "b": 281.5, "top": 1.258451, "bottom": 1.258233, "kind": "cap"}
      ]},
      "mark": {"type": "rect", "fill": "#787b86"},
      "encoding": {
        "x": {"field": "a", "type": "quantitative", "title": null},
        "x2": {"field": "b"},
        "y": {"field": "top", "type": "quantitative", "title": null},
        "y2": {"field": "bottom"},
        "opacity": {
          "field": "kind",
          "type": "nominal",
          "legend": null,
          "scale": {"type": "ordinal", "domain": ["box", "cap", "ghost"], "range": [0.29, 0.45, 0.1]}
        }
      }
    },
    {
      "data": {"values": [{"a": -18.3, "b": 501.2, "p": 1.25386}]},
      "mark": {"type": "rule", "stroke": "#9598a1", "strokeWidth": 2, "strokeDash": [2, 4]},
      "encoding": {
        "x": {"field": "a", "type": "quantitative", "title": null},
        "x2": {"field": "b"},
        "y": {"field": "p", "type": "quantitative", "title": null}
      }
    },
    {
      "data": {"values": [{"a": 322.7, "b": 501.2, "p": 1.2535}, {"a": 305, "b": 305.2, "p": 1.2535}]},
      "mark": {"type": "rule", "stroke": "#f7374a", "strokeWidth": 4},
      "encoding": {
        "x": {"field": "a", "type": "quantitative", "title": null},
        "x2": {"field": "b"},
        "y": {"field": "p", "type": "quantitative", "title": null}
      }
    },
    {
      "data": {"name": "bars"},
      "mark": {"type": "rule", "stroke": "#000000", "strokeWidth": 2},
      "encoding": {
        "x": {"field": "i", "type": "quantitative", "title": null},
        "y": {"field": "l", "type": "quantitative", "title": null},
        "y2": {"field": "h"}
      }
    },
    {
      "data": {"name": "bars"},
      "mark": {"type": "bar", "orient": "vertical", "size": 4, "stroke": "#000000", "strokeWidth": 1.5},
      "encoding": {
        "x": {"field": "i", "type": "quantitative", "title": null},
        "y": {"field": "o", "type": "quantitative", "title": null},
        "y2": {"field": "c"},
        "color": {
          "condition": {"test": "datum.c > datum.o", "value": "#1848cc"},
          "value": "#8a8d95"
        }
      }
    },
    {
      "data": {"name": "lines"},
      "mark": {"type": "rule", "strokeWidth": 2.5, "strokeDash": [11, 9], "stroke": "#000000"},
      "encoding": {
        "x": {"field": "a", "type": "quantitative", "title": null},
        "x2": {"field": "b"},
        "y": {"field": "p", "type": "quantitative", "title": null},
        "y2": {"field": "q"},
        "opacity": {
          "field": "kind",
          "type": "nominal",
          "legend": null,
          "scale": {"type": "ordinal", "domain": ["drawn", "faded"], "range": [0.95, 0.4]}
        }
      }
    },
    {
      "data": {"values": [
        {"i": 55.2, "p": 1.254779, "tilt": 10.7},
        {"i": 58.1, "p": 1.251714, "tilt": -7},
        {"i": 8.7, "p": 1.247674, "tilt": -7.6},
        {"i": 233.7, "p": 1.253435, "tilt": -12.8}
      ]},
      "mark": {"type": "text", "text": "$$$", "fontSize": 24, "fontWeight": "bold", "color": "#a3a6af", "align": "center", "baseline": "middle"},
      "encoding": {
        "x": {"field": "i", "type": "quantitative", "title": null},
        "y": {"field": "p", "type": "quantitative", "title": null},
        "angle": {"field": "tilt", "type": "quantitative", "scale": null}
      }
    },
    {
      "data": {"values": [
        {"i": -18.3, "p": 1.264654, "text": "doni_nxn published on TradingView.com, May 07, 2024 06:11 UTC"}
      ]},
      "mark": {"type": "text", "fontSize": 25.3, "color": "#131722", "align": "left", "baseline": "middle", "font": "Liberation Sans"},
      "encoding": {
        "x": {"field": "i", "type": "quantitative", "title": null},
        "y": {"field": "p", "type": "quantitative", "title": null},
        "text": {"field": "text"}
      }
    },
    {
      "data": {"values": [
        {"i": -15.84, "p": 1.264128, "text": "GBPUSD, 15, FOREX.com\u00a0\u00a0O1.25405\u00a0\u00a0H1.25411\u00a0\u00a0L1.25358\u00a0\u00a0C1.25386"}
      ]},
      "mark": {"type": "text", "fontSize": 24.3, "color": "#131722", "align": "left", "baseline": "middle", "font": "Liberation Sans"},
      "encoding": {
        "x": {"field": "i", "type": "quantitative", "title": null},
        "y": {"field": "p", "type": "quantitative", "title": null},
        "text": {"field": "text"}
      }
    },
    {
      "data": {"values": [{"i": -11.5, "p": 1.244942, "text": "TradingView"}]},
      "mark": {"type": "text", "fontSize": 27, "color": "#131722", "align": "left", "baseline": "middle", "font": "Liberation Sans"},
      "encoding": {
        "x": {"field": "i", "type": "quantitative", "title": null},
        "y": {"field": "p", "type": "quantitative", "title": null},
        "text": {"field": "text"}
      }
    },
    {
      "data": {"values": [{"i": 47.1, "p": 1.247028, "text": "M15"}]},
      "mark": {"type": "text", "fontSize": 26, "color": "#434651", "align": "center", "baseline": "middle"},
      "encoding": {
        "x": {"field": "i", "type": "quantitative", "title": null},
        "y": {"field": "p", "type": "quantitative", "title": null},
        "text": {"field": "text"}
      }
    },
    {
      "data": {"values": [{"i": 313.9, "p": 1.25349, "text": "$322M"}]},
      "mark": {"type": "text", "fontSize": 30, "fontWeight": "bold", "color": "#000000", "align": "center", "baseline": "middle"},
      "encoding": {
        "x": {"field": "i", "type": "quantitative", "title": null},
        "y": {"field": "p", "type": "quantitative", "title": null},
        "text": {"field": "text"}
      }
    },
    {
      "data": {"values": [{"i": 360, "p": 1.246104}]},
      "mark": {"type": "point", "shape": "circle", "size": 1600, "stroke": "#9c27b0", "strokeWidth": 3, "filled": false, "opacity": 1},
      "encoding": {
        "x": {"field": "i", "type": "quantitative", "title": null},
        "y": {"field": "p", "type": "quantitative", "title": null}
      }
    },
    {
      "data": {"values": [{"i": 360, "p": 1.246104}]},
      "mark": {"type": "point", "shape": "M0.2 -1 L-0.7 0.15 L-0.1 0.15 L-0.3 1 L0.7 -0.2 L0.1 -0.2 Z", "size": 441, "fill": "#9c27b0", "filled": true, "opacity": 1},
      "encoding": {
        "x": {"field": "i", "type": "quantitative", "title": null},
        "y": {"field": "p", "type": "quantitative", "title": null}
      }
    },
    {
      "data": {"values": [{"i": -15.5, "p": 1.24498}]},
      "mark": {"type": "point", "shape": "M-1 -0.5 L-0.222 -0.5 L-0.222 0.5 L-0.611 0.5 L-0.611 -0.111 L-1 -0.111 Z M0.111 0.5 L0.528 -0.5 L0.972 -0.5 L0.556 0.5 Z M-0.111 -0.278 A0.222 0.222 0 1 0 0.333 -0.278 A0.222 0.222 0 1 0 -0.111 -0.278 Z", "size": 1521, "fill": "#131722", "filled": true, "opacity": 1},
      "encoding": {
        "x": {"field": "i", "type": "quantitative", "title": null},
        "y": {"field": "p", "type": "quantitative", "title": null}
      }
    },
    {
      "data": {"name": "badges"},
      "mark": {"type": "rule", "strokeWidth": 33},
      "encoding": {
        "x": {"datum": 501.2, "type": "quantitative", "title": null},
        "x2": {"datum": 519.5},
        "y": {"field": "pos", "type": "quantitative", "title": null},
        "color": {
          "field": "tone",
          "type": "nominal",
          "legend": null,
          "scale": {
            "domain": ["dark", "slate", "grey", "light", "red"],
            "range": ["#434651", "#787b86", "#9598a1", "#b2b5be", "#f7374a"]
          }
        }
      }
    },
    {
      "data": {"name": "badges"},
      "mark": {"type": "text", "fontSize": 26, "align": "left", "baseline": "middle", "font": "Liberation Sans"},
      "encoding": {
        "x": {"datum": 504.2, "type": "quantitative", "title": null},
        "y": {"field": "pos", "type": "quantitative", "title": null},
        "text": {"field": "label"},
        "color": {
          "condition": {"test": "datum.tone == 'grey' || datum.tone == 'light'", "value": "#131722"},
          "value": "#ffffff"
        }
      }
    },
    {
      "data": {"values": [
        {"a": 500, "b": 520.5, "top": 1.26448, "bottom": 1.2665},
        {"a": 500, "b": 520.5, "top": 1.24585, "bottom": 1.2453}
      ]},
      "mark": {"type": "rect", "fill": "#ffffff"},
      "encoding": {
        "x": {"field": "a", "type": "quantitative", "title": null},
        "x2": {"field": "b"},
        "y": {"field": "top", "type": "quantitative", "title": null},
        "y2": {"field": "bottom"}
      }
    },
    {
      "data": {"values": [
        {"a": -18.3, "b": -18.3, "p": 1.2645, "q": 1.2453},
        {"a": 520.9, "b": 520.9, "p": 1.2645, "q": 1.2453},
        {"a": -18.3, "b": 520.9, "p": 1.2645, "q": 1.2645},
        {"a": -18.3, "b": 520.9, "p": 1.2453, "q": 1.2453},
        {"a": -18.3, "b": 520.9, "p": 1.24585, "q": 1.24585}
      ]},
      "mark": {"type": "rule", "stroke": "#e6e8f0", "strokeWidth": 2.5},
      "encoding": {
        "x": {"field": "a", "type": "quantitative", "title": null},
        "x2": {"field": "b"},
        "y": {"field": "p", "type": "quantitative", "title": null},
        "y2": {"field": "q"}
      }
    }
  ],
  "resolve": {"scale": {"color": "shared", "opacity": "independent"}}
}
